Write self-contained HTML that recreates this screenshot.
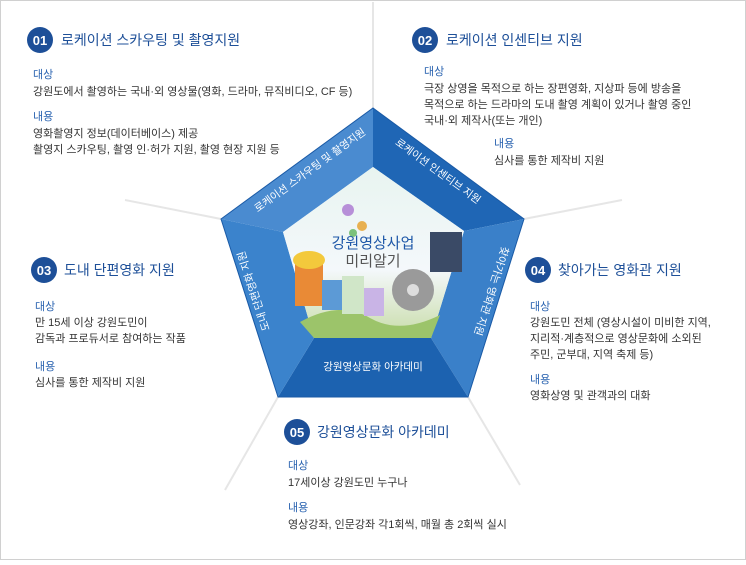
<!DOCTYPE html>
<html><head><meta charset="utf-8"><style>
body{margin:0;width:746px;height:560px;overflow:hidden;background:#fff;font-family:"Liberation Sans","Noto Sans CJK KR",sans-serif}
</style></head><body>
<svg width="746" height="560" viewBox="0 0 746 560" xmlns="http://www.w3.org/2000/svg" font-family="Liberation Sans, Noto Sans CJK KR, sans-serif">
<defs>
<linearGradient id="sky" x1="0" y1="0" x2="0" y2="1"><stop offset="0" stop-color="#e8f4f0"/><stop offset="0.6" stop-color="#f4f8fb"/><stop offset="1" stop-color="#c8dca8"/></linearGradient>
</defs>
<rect x="0.5" y="0.5" width="745" height="559" fill="#fff" stroke="#d0d0d0"/>
<g stroke="#e6e6e6" stroke-width="2" fill="none">
<line x1="373" y1="108" x2="373" y2="2"/>
<line x1="221" y1="219" x2="125" y2="200"/>
<line x1="524" y1="219" x2="622" y2="200"/>
<line x1="278" y1="397" x2="225" y2="490"/>
<line x1="468" y1="397" x2="520" y2="485"/>
</g>
<polygon points="221,219 373,108 373,167 283,232" fill="#4a8bd0"/>
<polygon points="373,108 524,219 464,231 373,167" fill="#1f66b5"/>
<polygon points="524,219 468,397 431,338 464,231" fill="#3a80c9"/>
<polygon points="468,397 278,397 314,338 431,338" fill="#1c62b0"/>
<polygon points="278,397 221,219 283,232 314,338" fill="#3b83cc"/>
<polygon points="221,219 373,108 524,219 468,397 278,397" fill="none" stroke="#1a5aa6" stroke-width="1"/>
<polygon points="373,167 464,231 431,338 314,338 283,232" fill="url(#sky)"/>
<path d="M300,322 Q340,300 370,318 Q400,335 440,315 L431,338 L314,338Z" fill="#9cc46a"/>
<rect x="295" y="264" width="28" height="42" fill="#e98a36"/>
<ellipse cx="309" cy="260" rx="16" ry="9" fill="#f3c93c"/>
<rect x="322" y="280" width="20" height="30" fill="#5c9ad6"/>
<rect x="342" y="276" width="22" height="38" fill="#d0e6c8"/>
<rect x="364" y="288" width="20" height="28" fill="#c9b4e6"/>
<rect x="430" y="232" width="32" height="40" fill="#3a4a66"/>
<circle cx="413" cy="290" r="21" fill="#9a9a9a"/>
<circle cx="413" cy="290" r="6" fill="#ddd"/>
<circle cx="348" cy="210" r="6" fill="#b78fd8"/>
<circle cx="362" cy="226" r="5" fill="#e8b050"/>
<circle cx="353" cy="233" r="4" fill="#7cc27c"/>
<text x="373" y="248" text-anchor="middle" font-size="15" fill="#1e57a8">강원영상사업</text>
<text x="373" y="266" text-anchor="middle" font-size="15" fill="#555">미리알기</text>
<g font-size="10.5" fill="#fff" text-anchor="middle">
<text transform="translate(312,173) rotate(-36)">로케이션 스카우팅 및 촬영지원</text>
<text transform="translate(436,174) rotate(36)">로케이션 인센티브 지원</text>
<text transform="translate(488,290) rotate(107.5)">찾아가는 영화관 지원</text>
<text transform="translate(373,370)">강원영상문화 아카데미</text>
<text transform="translate(257,290) rotate(-108)">도내 단편영화 지원</text>
</g>
<g fill="#1d4f98">
<circle cx="40" cy="40" r="13"/><circle cx="425" cy="40" r="13"/><circle cx="44" cy="270" r="13"/><circle cx="538" cy="270" r="13"/><circle cx="297" cy="432" r="13"/>
</g>
<g fill="#fff" font-size="13" text-anchor="middle" font-weight="bold">
<text x="40" y="45">01</text><text x="425" y="45">02</text><text x="44" y="275">03</text><text x="538" y="275">04</text><text x="297" y="437">05</text>
</g>
<g fill="#1d4f98" font-size="14">
<text x="61" y="45">로케이션 스카우팅 및 촬영지원</text>
<text x="446" y="45">로케이션 인센티브 지원</text>
<text x="64" y="275">도내 단편영화 지원</text>
<text x="558" y="275">찾아가는 영화관 지원</text>
<text x="317" y="437">강원영상문화 아카데미</text>
</g>
<g font-size="11" fill="#2a63b0">
<text x="33" y="78">대상</text><text x="33" y="120">내용</text>
<text x="424" y="75">대상</text><text x="494" y="147">내용</text>
<text x="35" y="310">대상</text><text x="35" y="370">내용</text>
<text x="530" y="310">대상</text><text x="530" y="383">내용</text>
<text x="288" y="469">대상</text><text x="288" y="511">내용</text>
</g>
<g font-size="11" fill="#333">
<text x="33" y="95">강원도에서 촬영하는 국내·외 영상물(영화, 드라마, 뮤직비디오, CF 등)</text>
<text x="33" y="137">영화촬영지 정보(데이터베이스) 제공</text>
<text x="33" y="153">촬영지 스카우팅, 촬영 인·허가 지원, 촬영 현장 지원 등</text>
<text x="424" y="92">극장 상영을 목적으로 하는 장편영화, 지상파 등에 방송을</text>
<text x="424" y="108">목적으로 하는 드라마의 도내 촬영 계획이 있거나 촬영 중인</text>
<text x="424" y="124">국내·외 제작사(또는 개인)</text>
<text x="494" y="164">심사를 통한 제작비 지원</text>
<text x="35" y="326">만 15세 이상 강원도민이</text>
<text x="35" y="342">감독과 프로듀서로 참여하는 작품</text>
<text x="35" y="386">심사를 통한 제작비 지원</text>
<text x="530" y="326">강원도민 전체 (영상시설이 미비한 지역,</text>
<text x="530" y="342">지리적·계층적으로 영상문화에 소외된</text>
<text x="530" y="358">주민, 군부대, 지역 축제 등)</text>
<text x="530" y="399">영화상영 및 관객과의 대화</text>
<text x="288" y="486">17세이상 강원도민 누구나</text>
<text x="288" y="528">영상강좌, 인문강좌 각1회씩, 매월 총 2회씩 실시</text>
</g>
</svg>
</body></html>
